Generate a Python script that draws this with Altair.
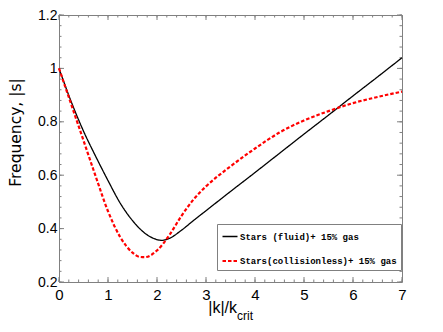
import altair as alt
import pandas as pd

# ---- data ----
k_fluid = [0, 0.25, 0.5, 0.75, 1.0, 1.25, 1.5, 1.75, 2.0, 2.1, 2.25, 2.5, 2.75,
           3.0, 3.5, 4.0, 4.5, 5.0, 5.5, 6.0, 6.5, 7.0]
freq_fluid = [1.0, 0.875, 0.765, 0.67, 0.58, 0.495, 0.43, 0.383, 0.359, 0.356,
              0.363, 0.394, 0.431, 0.467, 0.539, 0.61, 0.682, 0.754, 0.825,
              0.897, 0.968, 1.04]

k_coll = [0, 0.25, 0.5, 0.75, 1.0, 1.25, 1.5, 1.65, 1.75, 2.0, 2.25, 2.5, 2.75,
          3.0, 3.5, 4.0, 4.5, 5.0, 5.5, 6.0, 6.5, 7.0]
freq_coll = [1.0, 0.865, 0.73, 0.595, 0.465, 0.368, 0.31, 0.294, 0.293, 0.318,
             0.375, 0.448, 0.51, 0.558, 0.633, 0.70, 0.76, 0.805, 0.84, 0.87,
             0.893, 0.913]

series_names = ["Stars (fluid)+ 15% gas", "Stars(collisionless)+ 15% gas"]
series_colors = ["black", "red"]

x_major = [0, 1, 2, 3, 4, 5, 6, 7]
y_major = [0.2, 0.4, 0.6, 0.8, 1.0, 1.2]
x_minor = [round(0.2 * i, 2) for i in range(36)]
y_minor = [round(0.2 + 0.04 * i, 3) for i in range(26)]

# ---- tables ----
df = pd.concat([
    pd.DataFrame({"k": k_fluid, "freq": freq_fluid, "series": series_names[0]}),
    pd.DataFrame({"k": k_coll, "freq": freq_coll, "series": series_names[1]}),
], ignore_index=True)

W, H = 343, 267
GRAY = "#808080"
LABEL_FONT = "Liberation Sans"

x_axis = alt.Axis(values=x_major, ticks=False, domain=False, grid=False, title=None,
                  labelFont=LABEL_FONT, labelFontSize=15, labelColor="black",
                  labelPadding=5, labelFlush=False, labelOverlap=False, format="d")
y_axis = alt.Axis(values=y_major, ticks=False, domain=False, grid=False,
                  title="Frequency, |s|", titleFont="DejaVu Sans",
                  titleFontSize=15.5, titleFontWeight="normal", titleColor="black",
                  titleX=-44, titleY=117, titleAngle=270, titleAlign="center",
                  titleBaseline="middle",
                  labelFont=LABEL_FONT, labelFontSize=14, labelColor="black",
                  labelPadding=2, labelOverlap=False, format="~g")

x_scale = alt.Scale(domain=[0, 7], nice=False, zero=False)
y_scale = alt.Scale(domain=[0.2, 1.2], nice=False, zero=False)


def X():
    return alt.X("k:Q", scale=x_scale, axis=x_axis)


def Y():
    return alt.Y("freq:Q", scale=y_scale, axis=y_axis)


xmaj = pd.DataFrame({"k": x_major})
xmin = pd.DataFrame({"k": x_minor})
ymaj = pd.DataFrame({"freq": y_major})
ymin = pd.DataFrame({"freq": y_minor})

tick_layers = []
for d, L in [(xmaj, 5), (xmin, 2.5)]:
    tick_layers.append(alt.Chart(d).mark_rule(color=GRAY, strokeWidth=1).encode(
        x=X(), y=alt.value(H), y2=alt.value(H - L)))
    tick_layers.append(alt.Chart(d).mark_rule(color=GRAY, strokeWidth=1).encode(
        x=X(), y=alt.value(0), y2=alt.value(L)))
for d, L in [(ymaj, 5), (ymin, 2.5)]:
    tick_layers.append(alt.Chart(d).mark_rule(color=GRAY, strokeWidth=1).encode(
        y=Y(), x=alt.value(0), x2=alt.value(L)))
    tick_layers.append(alt.Chart(d).mark_rule(color=GRAY, strokeWidth=1).encode(
        y=Y(), x=alt.value(W), x2=alt.value(W - L)))

legend = alt.Legend(orient="none", legendX=158, legendY=209, title=None,
                    symbolType="stroke", symbolSize=225, symbolStrokeWidth=2,
                    labelFont="Liberation Mono", labelFontWeight="bold",
                    labelFontSize=9, labelColor="black", fillColor="white",
                    strokeColor=GRAY, padding=4, rowPadding=10, labelOffset=1,
                    labelLimit=400)

lines = alt.Chart(df).mark_line(interpolate="monotone").encode(
    x=X(), y=Y(),
    color=alt.Color("series:N", scale=alt.Scale(domain=series_names, range=series_colors),
                    legend=legend),
    strokeDash=alt.StrokeDash("series:N",
                              scale=alt.Scale(domain=series_names, range=[[1, 0], [3.5, 2]]),
                              legend=legend),
    strokeWidth=alt.StrokeWidth("series:N",
                                scale=alt.Scale(domain=series_names, range=[1.3, 2.2]),
                                legend=None),
    order=alt.Order("series:N"),
)

one = pd.DataFrame({"a": [0]})
xt1 = alt.Chart(one).mark_text(text="|k|/k", font="Liberation Sans", fontSize=16,
                               align="right", baseline="alphabetic", color="black").encode(
    x=alt.value(178), y=alt.value(298))
xt2 = alt.Chart(one).mark_text(text="crit", font="Liberation Sans", fontSize=12,
                               align="left", baseline="alphabetic", color="black").encode(
    x=alt.value(178), y=alt.value(305))

chart = alt.layer(*tick_layers, lines, xt1, xt2).properties(
    width=W, height=H,
    padding={"left": 51, "top": 7, "right": 20, "bottom": 42},
    autosize="none",
).configure_view(stroke=GRAY, strokeWidth=1)

chart.save("out.html", embed_options={"renderer": "svg", "actions": False})
